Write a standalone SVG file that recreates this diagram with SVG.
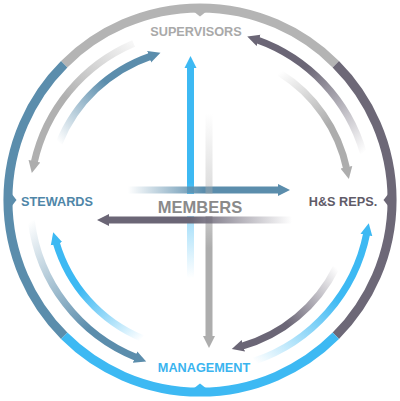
<svg xmlns="http://www.w3.org/2000/svg" width="400" height="401" viewBox="0 0 400 401">
<style>
  .lbl{font-family:"Liberation Sans",Arial,sans-serif;font-weight:bold;font-size:12.7px;text-anchor:middle}
  .arc{fill:none;stroke-width:7}
  .ring{fill:none;stroke-width:9}
  .ln{fill:none;stroke-width:7}
</style>
<defs>
  <marker id="mGray" markerUnits="userSpaceOnUse" markerWidth="14" markerHeight="14" viewBox="0 0 14 14" refX="2" refY="7" orient="auto"><path d="M0,1 L12,7 L0,13 z" fill="#adadad"/></marker>
  <marker id="mSteel" markerUnits="userSpaceOnUse" markerWidth="14" markerHeight="14" viewBox="0 0 14 14" refX="2" refY="7" orient="auto"><path d="M0,1 L12,7 L0,13 z" fill="#5b8dac"/></marker>
  <marker id="mDark" markerUnits="userSpaceOnUse" markerWidth="14" markerHeight="14" viewBox="0 0 14 14" refX="2" refY="7" orient="auto"><path d="M0,1 L12,7 L0,13 z" fill="#6b6676"/></marker>
  <marker id="mBlue" markerUnits="userSpaceOnUse" markerWidth="14" markerHeight="14" viewBox="0 0 14 14" refX="2" refY="7" orient="auto"><path d="M0,1 L12,7 L0,13 z" fill="#3db9f3"/></marker>

  <linearGradient id="gUL1" gradientUnits="userSpaceOnUse" x1="133.6" y1="43.5" x2="34" y2="163.2"><stop offset="0" stop-color="#b0b0b0" stop-opacity="0.1"/><stop offset="0.55" stop-color="#b0b0b0" stop-opacity="1"/></linearGradient>
  <linearGradient id="gUL2" gradientUnits="userSpaceOnUse" x1="59.1" y1="143.1" x2="151" y2="56.1"><stop offset="0" stop-color="#5b8dac" stop-opacity="0"/><stop offset="0.6" stop-color="#5b8dac" stop-opacity="1"/></linearGradient>
  <linearGradient id="gUR1" gradientUnits="userSpaceOnUse" x1="363.4" y1="153.1" x2="256.7" y2="39.8"><stop offset="0" stop-color="#6b6676" stop-opacity="0"/><stop offset="0.65" stop-color="#6b6676" stop-opacity="1"/></linearGradient>
  <linearGradient id="gUR2" gradientUnits="userSpaceOnUse" x1="279.5" y1="72.8" x2="346.8" y2="169.3"><stop offset="0" stop-color="#adadad" stop-opacity="0"/><stop offset="0.6" stop-color="#adadad" stop-opacity="1"/></linearGradient>
  <linearGradient id="gLL1" gradientUnits="userSpaceOnUse" x1="31.3" y1="220.7" x2="136.9" y2="357.8"><stop offset="0" stop-color="#5b8dac" stop-opacity="0"/><stop offset="0.7" stop-color="#5b8dac" stop-opacity="1"/></linearGradient>
  <linearGradient id="gLL2" gradientUnits="userSpaceOnUse" x1="142.4" y1="338.5" x2="56" y2="241.9"><stop offset="0" stop-color="#3db9f3" stop-opacity="0"/><stop offset="0.6" stop-color="#3db9f3" stop-opacity="1"/></linearGradient>
  <linearGradient id="gLR1" gradientUnits="userSpaceOnUse" x1="254.2" y1="361.1" x2="366.8" y2="233"><stop offset="0" stop-color="#3db9f3" stop-opacity="0"/><stop offset="0.6" stop-color="#3db9f3" stop-opacity="1"/></linearGradient>
  <linearGradient id="gLR2" gradientUnits="userSpaceOnUse" x1="336.1" y1="267.6" x2="241.4" y2="346.3"><stop offset="0" stop-color="#6b6676" stop-opacity="0"/><stop offset="0.6" stop-color="#6b6676" stop-opacity="1"/></linearGradient>

  <linearGradient id="gVB" gradientUnits="userSpaceOnUse" x1="0" y1="278" x2="0" y2="66"><stop offset="0" stop-color="#3db9f3" stop-opacity="0"/><stop offset="0.3" stop-color="#3db9f3" stop-opacity="0.5"/><stop offset="0.45" stop-color="#3db9f3" stop-opacity="1"/></linearGradient>
  <linearGradient id="gVG" gradientUnits="userSpaceOnUse" x1="0" y1="113" x2="0" y2="338"><stop offset="0" stop-color="#adadad" stop-opacity="0"/><stop offset="0.4" stop-color="#adadad" stop-opacity="0.5"/><stop offset="0.6" stop-color="#adadad" stop-opacity="1"/></linearGradient>
  <linearGradient id="gHS" gradientUnits="userSpaceOnUse" x1="128" y1="0" x2="280" y2="0"><stop offset="0" stop-color="#5b8dac" stop-opacity="0"/><stop offset="0.5" stop-color="#5b8dac" stop-opacity="1"/></linearGradient>
  <linearGradient id="gHD" gradientUnits="userSpaceOnUse" x1="292" y1="0" x2="107" y2="0"><stop offset="0" stop-color="#6b6676" stop-opacity="0"/><stop offset="0.55" stop-color="#6b6676" stop-opacity="1"/></linearGradient>
</defs>

<g id="ring">
  <path class="ring" stroke="#b4b4b4" d="M64.2,64.2 A192,192 0 0 1 335.8,64.2"/>
  <path class="ring" stroke="#6d6877" d="M335.8,64.2 A192,192 0 0 1 335.8,335.8"/>
  <path class="ring" stroke="#3db9f3" d="M335.8,335.8 A192,192 0 0 1 64.2,335.8"/>
  <path class="ring" stroke="#5b8dac" d="M64.2,335.8 A192,192 0 0 1 64.2,64.2"/>
  <polygon points="193,11 207,11 200,16.5" fill="#b4b4b4"/>
  <polygon points="389,193 389,207 383.5,200" fill="#6d6877"/>
  <polygon points="193,389 207,389 200,383.5" fill="#3db9f3"/>
  <polygon points="11,193 11,207 16.5,200" fill="#5b8dac"/>
</g>

<g id="connectors">
  <path class="arc" stroke="url(#gUL1)" marker-end="url(#mGray)" d="M133.6,43.5 A170,170 0 0 0 34,163.2"/>
  <path class="arc" stroke="url(#gUL2)" marker-end="url(#mSteel)" d="M59.1,143.1 A152,152 0 0 1 151,56.1"/>
  <path class="arc" stroke="url(#gUR1)" marker-end="url(#mDark)" d="M363.4,153.1 A170,170 0 0 0 256.7,39.8"/>
  <path class="arc" stroke="url(#gUR2)" marker-end="url(#mGray)" d="M279.5,72.8 A150,150 0 0 1 346.8,169.3"/>
  <path class="arc" stroke="url(#gLL1)" marker-end="url(#mSteel)" d="M31.3,220.7 A170,170 0 0 0 136.9,357.8"/>
  <path class="arc" stroke="url(#gLL2)" marker-end="url(#mBlue)" d="M142.4,338.5 A150,150 0 0 1 56,241.9"/>
  <path class="arc" stroke="url(#gLR1)" marker-end="url(#mBlue)" d="M254.2,361.1 A170,170 0 0 0 366.8,233"/>
  <path class="arc" stroke="url(#gLR2)" marker-end="url(#mDark)" d="M336.1,267.6 A152,152 0 0 1 241.4,346.3"/>

  <path class="ln" stroke="url(#gVB)" marker-end="url(#mBlue)" d="M190.5,278 L190.5,66"/>
  <path class="ln" stroke="url(#gHS)" marker-end="url(#mSteel)" d="M128,190 L280,190"/>
  <path class="ln" stroke="url(#gVG)" marker-end="url(#mGray)" d="M209,113 L209,338"/>
  <path class="ln" stroke="url(#gHD)" marker-end="url(#mDark)" d="M292,220 L107,220"/>
</g>

<g id="members">
  <rect x="150" y="194" width="100" height="22" fill="#ffffff"/>
  <text class="lbl" x="200" y="213" style="font-size:16.5px" fill="#8a8a8a">MEMBERS</text>
</g>
<g id="supervisors"><text class="lbl" x="196" y="36" fill="#a9a9a9">SUPERVISORS</text></g>
<g id="stewards"><text class="lbl" x="57" y="206" fill="#4f86a8">STEWARDS</text></g>
<g id="hsreps"><text class="lbl" x="343" y="206" fill="#5f5b68">H&amp;S REPS.</text></g>
<g id="management"><text class="lbl" x="204" y="372" fill="#3ab4ef">MANAGEMENT</text></g>
</svg>
